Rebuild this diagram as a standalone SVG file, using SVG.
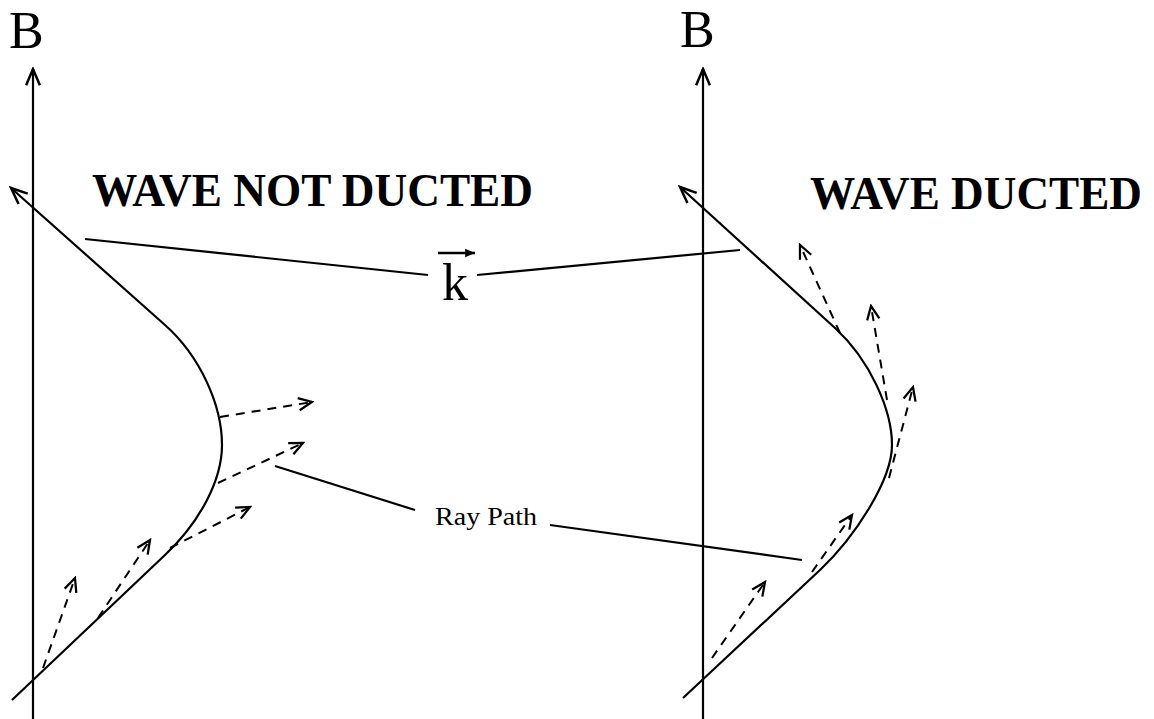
<svg xmlns="http://www.w3.org/2000/svg" width="1154" height="719" viewBox="0 0 1154 719">
<style>
.ln{fill:none;stroke:#000;stroke-width:2.2}
.ds{fill:none;stroke:#000;stroke-width:2;stroke-dasharray:9,7}
.t{font-family:"Liberation Serif","Times New Roman",serif;fill:#000}
.tb{font-family:"Liberation Serif","Times New Roman",serif;font-weight:bold;fill:#000}
</style>
<defs>
<marker id="ah" markerWidth="20" markerHeight="20" refX="0" refY="0" viewBox="-14 -7 16 14" markerUnits="userSpaceOnUse" orient="auto">
<path d="M-13,-5.5 L0,0 L-13,5.5" fill="none" stroke="#000" stroke-width="2"/>
</marker>
<marker id="dh" markerWidth="18" markerHeight="18" refX="0" refY="0" viewBox="-14 -7 16 14" markerUnits="userSpaceOnUse" orient="auto">
<path d="M-12,-5.5 L0,0 L-12,5.5" fill="none" stroke="#000" stroke-width="2"/>
</marker>
<marker id="kh" markerWidth="12" markerHeight="12" refX="0" refY="0" viewBox="-10 -5 11 10" markerUnits="userSpaceOnUse" orient="auto">
<path d="M-9,-4 L0,0 L-9,4 Z" fill="#000"/>
</marker>
</defs>
<g id="left-panel">
<text class="t" x="9" y="48" font-size="52">B</text>
<line class="ln" x1="33" y1="719" x2="33" y2="69" marker-end="url(#ah)"/>
<path class="ln" d="M12,700 L165,555 C200,522 222,480 222,445 C222,405 200,356 165,325 L11,188" marker-end="url(#ah)"/>
<text class="tb" x="92" y="206" font-size="46" textLength="441" lengthAdjust="spacingAndGlyphs">WAVE NOT DUCTED</text>
</g>
<g id="right-panel">
<text class="t" x="680" y="47" font-size="52">B</text>
<line class="ln" x1="703" y1="719" x2="703" y2="69" marker-end="url(#ah)"/>
<path class="ln" d="M683,698 L820,570 C855,537 892,480 892,445 C892,410 870,360 835,328 L680,187" marker-end="url(#ah)"/>
<text class="tb" x="810" y="209" font-size="46" textLength="332" lengthAdjust="spacingAndGlyphs">WAVE DUCTED</text>
</g>
<g id="k-label">
<text class="t" x="442" y="300" font-size="52">k</text>
<line x1="438" y1="253" x2="475" y2="253" stroke="#000" stroke-width="2.4" marker-end="url(#kh)"/>
</g>
<g id="ray-path-label">
<text class="t" x="435" y="525" font-size="26" textLength="102" lengthAdjust="spacingAndGlyphs">Ray Path</text>
</g>
<g id="connectors">
<line class="ln" x1="85" y1="239" x2="428" y2="275"/>
<line class="ln" x1="477" y1="275" x2="740" y2="250"/>
<line class="ln" x1="275" y1="466" x2="415" y2="510"/>
<line class="ln" x1="550" y1="525" x2="802" y2="560"/>
<line class="ds" x1="220" y1="417" x2="312" y2="402" marker-end="url(#dh)"/>
<line class="ds" x1="218" y1="483" x2="303" y2="443" marker-end="url(#dh)"/>
<line class="ds" x1="170" y1="548" x2="250" y2="507" marker-end="url(#dh)"/>
<line class="ds" x1="98" y1="618" x2="150" y2="540" marker-end="url(#dh)"/>
<line class="ds" x1="43" y1="668" x2="75" y2="578" marker-end="url(#dh)"/>
<line class="ds" x1="840" y1="333" x2="800" y2="245" marker-end="url(#dh)"/>
<line class="ds" x1="887" y1="400" x2="871" y2="306" marker-end="url(#dh)"/>
<line class="ds" x1="889" y1="478" x2="913" y2="387" marker-end="url(#dh)"/>
<line class="ds" x1="812" y1="572" x2="852" y2="515" marker-end="url(#dh)"/>
<line class="ds" x1="712" y1="658" x2="765" y2="582" marker-end="url(#dh)"/>
</g>
</svg>
